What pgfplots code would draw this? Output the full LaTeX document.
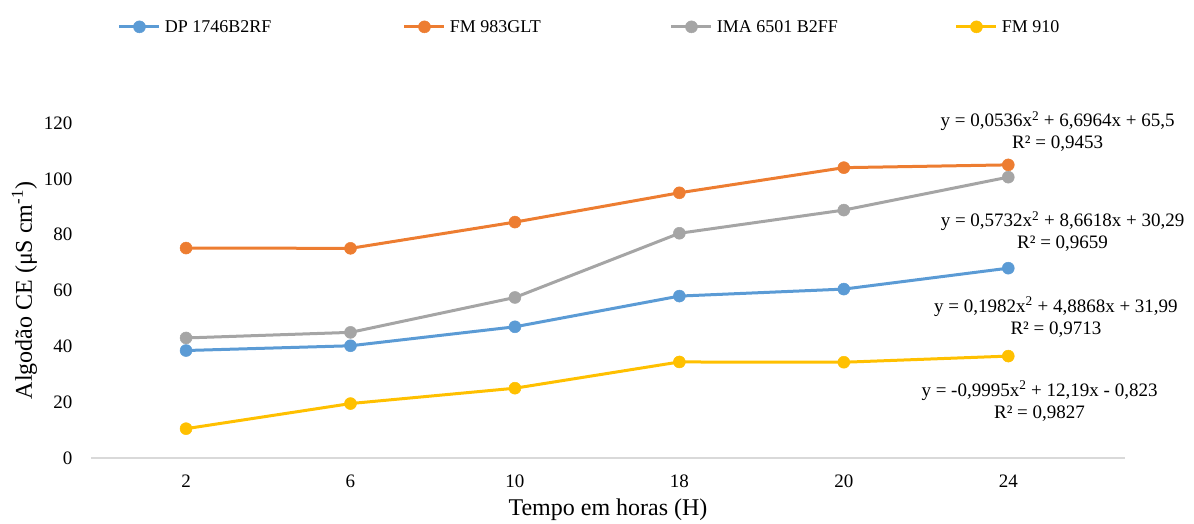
\documentclass[border=0pt]{standalone}
\usepackage{pgfplots}
\pgfplotsset{compat=1.18}
\usepackage{fontspec}
\setmainfont{Liberation Serif}
\definecolor{cblue}{HTML}{5B9BD5}
\definecolor{corange}{HTML}{ED7D31}
\definecolor{cgray}{HTML}{A5A5A5}
\definecolor{cyellow}{HTML}{FFC000}
\tikzset{eq/.style={font=\fontsize{19}{22}\selectfont, align=center, inner sep=0pt}}
\begin{document}
\begin{tikzpicture}
\path[use as bounding box] (0,0) rectangle (1194pt,524pt);
\begin{axis}[
  at={(91pt,66pt)}, anchor=south west, scale only axis,
  width=1034pt, height=335pt,
  xmin=-0.578, xmax=5.71, ymin=0, ymax=120,
  xtick={0,1,2,3,4,5}, xticklabels={2,6,10,18,20,24},
  ytick={0,20,40,60,80,100,120},
  axis x line*=bottom, axis y line*=left, axis line style={-},
  x axis line style={draw=black!15, line width=1.2pt},
  y axis line style={draw=none},
  major tick length=0pt,
  tick label style={font=\fontsize{19}{19}\selectfont},
  /pgf/number format/assume math mode=true,
  xticklabel style={yshift=-13pt},
  yticklabel style={xshift=-15pt},
  xlabel={Tempo em horas (H)},
  ylabel={Algodão CE (μS cm\textsuperscript{-1})},
  label style={font=\fontsize{24}{24}\selectfont},
  xlabel style={yshift=-5pt},
  clip=false,
  every axis plot/.append style={line width=3pt, mark=*, mark size=6pt, mark options={line width=0.5pt}},
  legend columns=4,
  legend style={draw=none, at={(0.023,1.287)}, anchor=west, column sep=4pt,
    nodes={inner sep=0pt, anchor=west}, font=\fontsize{18}{18}\selectfont},
  legend image code/.code={\draw[mark repeat=2,mark phase=2] plot coordinates {(0pt,0pt) (20pt,0pt) (40pt,0pt)};},
]
\addplot[cblue] coordinates {(0,38.5) (1,40.2) (2,47) (3,58) (4,60.5) (5,68)};
\addlegendentry{\makebox[234pt][l]{DP 1746B2RF}}
\addplot[corange] coordinates {(0,75.2) (1,75.1) (2,84.5) (3,95) (4,104) (5,105)};
\addlegendentry{\makebox[216pt][l]{FM 983GLT}}
\addplot[cgray] coordinates {(0,43) (1,45) (2,57.5) (3,80.5) (4,88.8) (5,100.6)};
\addlegendentry{\makebox[234pt][l]{IMA 6501 B2FF}}
\addplot[cyellow] coordinates {(0,10.5) (1,19.5) (2,25) (3,34.4) (4,34.3) (5,36.5)};
\addlegendentry{FM 910}
\node[eq] at (axis cs:5.30,117.0) {y = 0,0536x\textsuperscript{2} + 6,6964x + 65,5\\R² = 0,9453};
\node[eq] at (axis cs:5.33,81.2) {y = 0,5732x\textsuperscript{2} + 8,6618x + 30,29\\R² = 0,9659};
\node[eq] at (axis cs:5.29,50.5) {y = 0,1982x\textsuperscript{2} + 4,8868x + 31,99\\R² = 0,9713};
\node[eq] at (axis cs:5.19,20.4) {y = -0,9995x\textsuperscript{2} + 12,19x - 0,823\\R² = 0,9827};
\end{axis}
\end{tikzpicture}
\end{document}
